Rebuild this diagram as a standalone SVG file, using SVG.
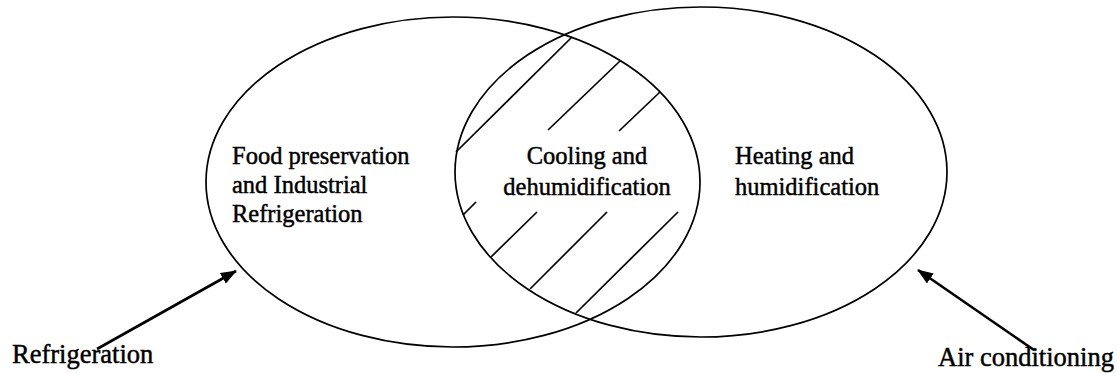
<svg xmlns="http://www.w3.org/2000/svg" width="1117" height="373" viewBox="0 0 1117 373">
  <defs>
    <style>
      .ring { fill: none; stroke: #000; stroke-width: 1.7; }
      .hatch { stroke: #000; stroke-width: 1.7; fill: none; }
      .conn { stroke: #000; stroke-width: 2.6; fill: none; }
      .inner { font-family: "Liberation Serif", "Times New Roman", serif; font-size: 24.5px; fill: #000; stroke: #000; stroke-width: 0.45px; }
      .outer { font-family: "Liberation Serif", "Times New Roman", serif; font-size: 26.5px; fill: #000; stroke: #000; stroke-width: 0.45px; }
    </style>
    <marker id="arrow" viewBox="0 0 16 12" refX="15" refY="6" markerWidth="16" markerHeight="12" markerUnits="userSpaceOnUse" orient="auto">
      <path d="M0,0 L16,6 L0,12 z" fill="#000"/>
    </marker>
  </defs>
  <rect width="1117" height="373" fill="#fff"/>

  <g id="refrigeration-set">
    <ellipse class="ring" cx="453" cy="182" rx="247" ry="165"/>
    <text class="inner" x="232" y="164">Food preservation</text>
    <text class="inner" x="232" y="193">and Industrial</text>
    <text class="inner" x="232" y="222">Refrigeration</text>
  </g>

  <g id="air-conditioning-set">
    <ellipse class="ring" cx="701" cy="172" rx="246" ry="165"/>
    <text class="inner" x="735" y="164">Heating and</text>
    <text class="inner" x="735" y="195">humidification</text>
  </g>

  <g id="overlap">
    <line class="hatch" x1="456" y1="152" x2="572" y2="37"/>
    <line class="hatch" x1="548" y1="130" x2="620" y2="61"/>
    <line class="hatch" x1="619" y1="131" x2="660" y2="92"/>
    <line class="hatch" x1="463" y1="215" x2="476" y2="202"/>
    <line class="hatch" x1="491" y1="257" x2="537" y2="212"/>
    <line class="hatch" x1="530" y1="289" x2="607" y2="212"/>
    <line class="hatch" x1="576" y1="313" x2="678" y2="212"/>
    <text class="inner" x="587" y="164" text-anchor="middle">Cooling and</text>
    <text class="inner" x="587" y="195" text-anchor="middle">dehumidification</text>
  </g>

  <g id="label-refrigeration">
    <text class="outer" x="12" y="363">Refrigeration</text>
  </g>
  <g id="label-air-conditioning">
    <text class="outer" x="938" y="366">Air conditioning</text>
  </g>

  <g id="connectors">
    <line class="conn" x1="97" y1="349" x2="236" y2="271" marker-end="url(#arrow)"/>
    <line class="conn" x1="1034" y1="350" x2="918" y2="270" marker-end="url(#arrow)"/>
  </g>
</svg>
